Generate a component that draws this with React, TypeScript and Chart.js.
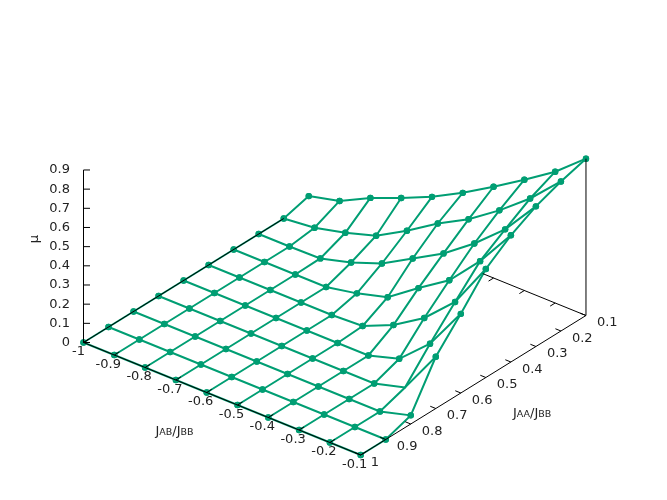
import React, { useEffect, useRef } from "react";
import { Chart, registerables } from "chart.js";

Chart.register(...registerables);

const jabValues = [-1, -0.9, -0.8, -0.7, -0.6, -0.5, -0.4, -0.3, -0.2, -0.1];
const jaaValues = [1, 0.9, 0.8, 0.7, 0.6, 0.5, 0.4, 0.3, 0.2, 0.1];
const zTicks = [0, 0.1, 0.2, 0.3, 0.4, 0.5, 0.6, 0.7, 0.8, 0.9];

const muAt10 = [0, 0, 0, 0, 0, 0, 0, 0, 0, 0];
const muAt09 = [0, 0, 0, 0, 0, 0, 0, 0, 0, 0];
const muAt08 = [0, 0, 0, 0, 0, 0, 0, 0, 0, 0.045];
const muAt07 = [0, 0, 0, 0, 0, 0, 0, 0, 0.044, 0.27];
const muAt06 = [0, 0, 0, 0, 0, 0, 0, 0.048, 0.192, 0.413];
const muAt05 = [0, 0, 0, 0, 0, 0.008, 0.078, 0.18, 0.329, 0.566];
const muAt04 = [0, 0, 0, 0, 0.032, 0.077, 0.19, 0.296, 0.461, 0.661];
const muAt03 = [0, 0, 0.003, 0.047, 0.107, 0.198, 0.29, 0.407, 0.546, 0.731];
const muAt02 = [0, 0.017, 0.056, 0.106, 0.197, 0.3, 0.387, 0.499, 0.626, 0.78];
const muAt01 = [0.036, 0.076, 0.157, 0.222, 0.293, 0.379, 0.476, 0.578, 0.685, 0.818];
const muRows = [muAt10, muAt09, muAt08, muAt07, muAt06, muAt05, muAt04, muAt03, muAt02, muAt01];

// View of the 3D box on the page.
const view = { ox: 83.5, oy: 342.5, abX: 30.8, abY: 12.5, aaX: 25.03, aaY: -15.5, z: 191.7 };
const GREEN = "#009e73";
const FONT = "'DejaVu Sans', sans-serif";

const px = (i: number, j: number) => view.ox + i * view.abX + j * view.aaX;
const py = (i: number, j: number, mu = 0) => view.oy + i * view.abY + j * view.aaY - mu * view.z;
const pt = (i: number, j: number, mu = 0) => ({ x: px(i, j), y: py(i, j, mu) });
const gap = { x: NaN, y: NaN };

function buildDatasets() {
  const sets: any[] = [];
  const grid = (points: { x: number; y: number }[], radii: number[]) => ({
    data: points,
    showLine: true,
    borderColor: GREEN,
    backgroundColor: GREEN,
    borderWidth: 2,
    pointRadius: radii,
    pointBorderWidth: 0,
    tension: 0,
    order: 2,
  });
  const markerAt = (i: number, j: number) => (i === 8 && j === 3 ? 0 : 3.2);
  muRows.forEach((row, j) => {
    sets.push(grid(row.map((m, i) => pt(i, j, m)), row.map((_, i) => markerAt(i, j))));
  });
  jabValues.forEach((_, i) => {
    sets.push(grid(muRows.map((row, j) => pt(i, j, row[i])), muRows.map((_r, j) => markerAt(i, j))));
  });

  const border: { x: number; y: number }[] = [];
  const add = (...p: { x: number; y: number }[]) => border.push(...p, gap);
  add(pt(0, 0), pt(9, 0));
  add(pt(9, 0), pt(9, 9));
  add(pt(0, 0), pt(0, 8));
  add(pt(5.65, 9), pt(9, 9));
  add(pt(0, 0), pt(0, 0, 0.9));
  add(pt(9, 9), pt(9, 9, muAt01[9]));
  zTicks.forEach((z) => add(pt(0, 0, z), { x: px(0, 0) + 6.5, y: py(0, 0, z) }));
  jabValues.forEach((_, i) => add(pt(i, 0), pt(i, 0.2)));
  jabValues.slice(6, 9).forEach((_, k) => add(pt(6 + k, 9), pt(6 + k, 8.8)));
  jaaValues.forEach((_, j) => add(pt(9, j), pt(8.82, j)));
  sets.push({
    data: border,
    showLine: true,
    borderColor: "#000",
    borderWidth: 1,
    pointRadius: 0,
    tension: 0,
    spanGaps: false,
    order: 1,
  });
  return sets;
}

const labelsPlugin = {
  id: "boxLabels",
  afterDatasetsDraw(chart: any) {
    const { ctx, scales } = chart;
    const X = (v: number) => scales.x.getPixelForValue(v);
    const Y = (v: number) => scales.y.getPixelForValue(v);
    ctx.save();
    ctx.fillStyle = "#222";
    ctx.font = `13px ${FONT}`;
    ctx.textBaseline = "middle";

    ctx.textAlign = "right";
    zTicks.forEach((z) => ctx.fillText(String(z), X(70), Y(py(0, 0, z))));

    ctx.textAlign = "center";
    jabValues.forEach((v, i) =>
      ctx.fillText(String(v), X(px(i, 0) + (i === 0 ? -5 : -6)), Y(py(i, 0) + 9.5))
    );

    ctx.textAlign = "left";
    jaaValues.forEach((v, j) =>
      ctx.fillText(String(v), X(px(9, j) + (j === 0 ? 10 : 11)), Y(py(9, j) + 7.5))
    );

    const title = (parts: [string, boolean][], x: number, y: number) => {
      let cx = x;
      ctx.textAlign = "left";
      ctx.textBaseline = "alphabetic";
      parts.forEach(([text, small]) => {
        ctx.font = `${small ? 9.5 : 13}px ${FONT}`;
        ctx.fillText(text, X(cx), Y(y));
        cx += ctx.measureText(text).width;
      });
    };
    title([["J", false], ["AB", true], ["/", false], ["J", false], ["BB", true]], 155.5, 435);
    title([["J", false], ["AA", true], ["/", false], ["J", false], ["BB", true]], 513, 417);

    ctx.font = `13px ${FONT}`;
    ctx.textAlign = "center";
    ctx.textBaseline = "middle";
    ctx.translate(X(35), Y(239));
    ctx.rotate(-Math.PI / 2);
    ctx.fillText("μ", 0, 0);
    ctx.restore();
  },
};

export default function App() {
  const ref = useRef<HTMLCanvasElement>(null);
  useEffect(() => {
    document.body.style.margin = "0";
    const chart = new Chart(ref.current!, {
      type: "scatter",
      data: { datasets: buildDatasets() },
      plugins: [labelsPlugin],
      options: {
        animation: false,
        responsive: false,
        layout: { padding: 0, autoPadding: false },
        plugins: { legend: { display: false }, tooltip: { enabled: false } },
        scales: {
          x: { type: "linear", display: false, min: 0, max: 667 },
          y: { type: "linear", display: false, min: 0, max: 500, reverse: true },
        },
      },
    } as any);
    return () => chart.destroy();
  }, []);
  return <canvas ref={ref} width={667} height={500} style={{ display: "block", background: "#fff" }} />;
}
